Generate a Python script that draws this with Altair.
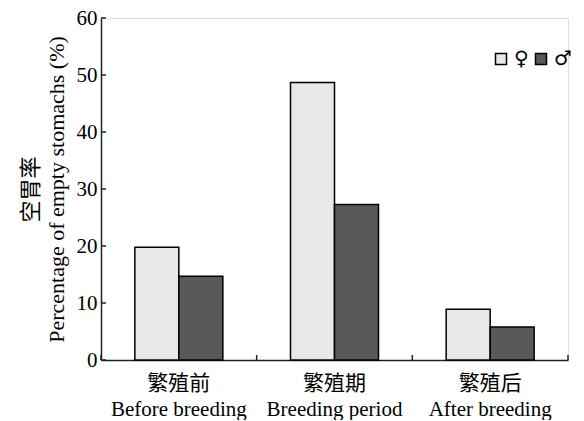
import altair as alt
import pandas as pd

cats_cn = ["繁殖前", "繁殖期", "繁殖后"]
cats_en = ["Before breeding", "Breeding period", "After breeding"]
sexes = ["♀", "♂"]
female = [19.8, 48.7, 8.9]
male = [14.7, 27.3, 5.8]
y_ticks = [0, 10, 20, 30, 40, 50, 60]
band_edges = [0, 1, 2, 3]

cats = [c + "|" + e for c, e in zip(cats_cn, cats_en)]
rows = []
for i, c in enumerate(cats):
    rows.append({"period": c, "sex": sexes[0], "value": female[i]})
    rows.append({"period": c, "sex": sexes[1], "value": male[i]})
df = pd.DataFrame(rows)

W, H = 467, 342
FONT = "Liberation Serif, Times New Roman, Noto Sans CJK SC"

bars = alt.Chart(df).mark_bar(stroke="black", strokeWidth=1.5).encode(
    x=alt.X("period:N", sort=cats,
            scale=alt.Scale(paddingInner=0.4347, paddingOuter=0.2174),
            axis=alt.Axis(title=None, labelExpr="split(datum.label, '|')",
                          labelAngle=0, labelFontSize=21, labelFont=FONT,
                          labelColor="black", labelLineHeight=26,
                          labelPadding=12, ticks=False,
                          domainColor="#222", domainWidth=1.5)),
    xOffset=alt.XOffset("sex:N", sort=sexes, scale=alt.Scale(paddingInner=0, paddingOuter=0)),
    y=alt.Y("value:Q", scale=alt.Scale(domain=[0, 60], nice=False),
            axis=alt.Axis(values=y_ticks, title=["空胃率", "Percentage of empty stomachs (%)"],
                          titleFont=FONT, titleFontSize=22, titleFontWeight="normal",
                          titleColor="black", titleLineHeight=26, titlePadding=8,
                          labelFont=FONT, labelFontSize=21, labelColor="black",
                          labelPadding=4, ticks=False, grid=False,
                          domainColor="#222", domainWidth=1.5)),
    color=alt.Color("sex:N", sort=sexes,
                    scale=alt.Scale(domain=sexes, range=["#e8e8e8", "#595959"]),
                    legend=alt.Legend(title=None, orient="none", legendX=390, legendY=31,
                                      direction="horizontal", symbolType="square",
                                      symbolSize=121, symbolStrokeColor="black",
                                      symbolStrokeWidth=1.5, labelFontSize=20,
                                      labelFont="DejaVu Sans, Liberation Serif",
                                      labelColor="black", labelOffset=3,
                                      columnPadding=2)),
)

yt = alt.Chart(pd.DataFrame({"v": y_ticks})).mark_rule(color="#222", strokeWidth=1.5).encode(
    y="v:Q", x=alt.value(0), x2=alt.value(5)
)

xt = alt.Chart(pd.DataFrame({"e": band_edges})).mark_rule(color="#222", strokeWidth=1.5).encode(
    x=alt.X("e:Q", scale=alt.Scale(domain=[0, 3], nice=False), axis=None),
    y=alt.value(H), y2=alt.value(H - 5)
)

chart = alt.layer(bars, yt, xt).resolve_scale(x="independent").properties(
    width=W, height=H,
    autosize=alt.AutoSizeParams(type="none"),
    padding={"left": 93, "top": 10, "right": 8, "bottom": 60},
).configure_view(stroke=None).configure(background="white")

chart.save("out.html", embed_options={"renderer": "svg", "actions": False})
